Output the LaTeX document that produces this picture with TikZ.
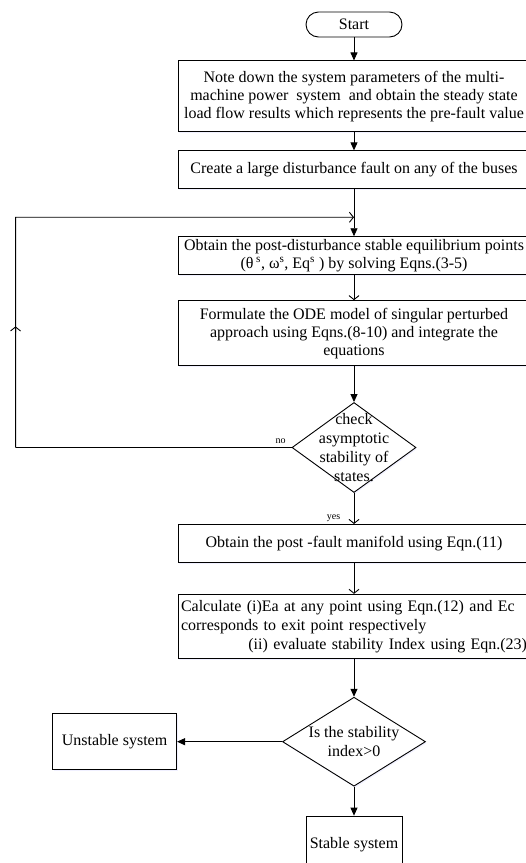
\documentclass[tikz,border=0pt]{standalone}
\usepackage{fontspec}
\setmainfont{Liberation Serif}
\usetikzlibrary{shapes, arrows.meta, positioning, calc, shadows}

\begin{document}
\begin{tikzpicture}[
			node distance=30pt,
			line width=0.9pt,
			>={Triangle[length=8pt,width=7pt]},
			open/.style={-{Straight Barb[length=4pt,width=10pt]}},
			boxshadow/.style={drop shadow={shadow xshift=1pt, shadow yshift=-1.5pt, fill=blue!15, opacity=0.4}},
			block/.style={draw, rectangle, boxshadow, fill=white, minimum width=352pt, inner xsep=2pt, inner ysep=2pt, align=center, font=\fontsize{16}{18}\selectfont},
			decision/.style={draw, diamond, boxshadow, fill=white, inner sep=0pt},
			terminal/.style={draw, rectangle, rounded corners=12.5pt, fill=white, minimum width=96pt, minimum height=25pt, font=\fontsize{16}{18}\selectfont},
			txt/.style={align=center, font=\fontsize{16}{19}\selectfont},
			small/.style={font=\fontsize{10}{12}\selectfont}
			]
			\useasboundingbox (0,0) rectangle (526pt,-863pt);
			% --- Definicja węzłów (elementów schematu) ---
			\node[terminal] (start) at (354pt,-24.5pt) {Start};
			\node[block, minimum height=71pt, below=23pt of start] (note) {Note down the system parameters of the multi-\\machine power\ \ system\ \ and obtain the steady state\\load flow results which represents the pre-fault value};
			\node[block, minimum height=38pt, below=18pt of note] (fault) {Create a large disturbance fault on any of the buses};
			\node[block, minimum height=38pt, below=47pt of fault] (sep) {Obtain the post-disturbance stable equilibrium points\\(θ\,\textsuperscript{s}, ω\textsuperscript{s}, Eq\textsuperscript{s} ) by solving Eqns.(3-5)};
			\node[block, minimum height=65pt, below=25pt of sep] (ode) {Formulate the ODE model of singular perturbed\\approach using Eqns.(8-10) and integrate the\\equations};
			\node[decision, minimum width=124pt, minimum height=90pt, below=36pt of ode] (check) {};
			\node[txt] (checktxt) at (check) {check\\asymptotic\\stability of\\states.};
			\node[block, minimum height=38pt, below=31pt of check] (manifold) {Obtain the post -fault manifold using Eqn.(11)};
			\node[block, text width=346pt, inner xsep=3pt, minimum height=64pt, below=31pt of manifold, align=left, font=\fontsize{16}{19}\selectfont] (index) {Calculate (i)Ea at any point using Eqn.(12) and Ec\\corresponds to exit point respectively\\\hspace*{\fill}(ii) evaluate stability Index using Eqn.(23)};
			\node[decision, minimum width=143pt, minimum height=89pt, below=38pt of index] (sign) {};
			\node[txt] (signtxt) at (sign) {Is the stability\\index>0};
			\node[block, minimum width=96pt, minimum height=58pt, below=29pt of sign] (stable) {Stable system};
			\node[block, minimum width=124pt, minimum height=56pt, left=105pt of sign] (unstable) {Unstable system};

			% --- Rysowanie strzałek (ścieżka główna) ---
			\draw[->] (start) -- (note);
			\draw[->] (note) -- (fault);
			\draw[->] (fault) -- (sep);
			\draw[open] (sep) -- (ode);
			\draw[->] (ode) -- (check);
			\draw[open] (check) -- node[pos=0.8, left=10pt, small] (yeslbl) {yes} (manifold);
			\draw[open] (manifold) -- (index);
			\draw[->] (index) -- (sign);
			\draw[->] (sign) -- (unstable);
			\draw[->] (sign) -- (stable);

			% --- Pętla powrotna (no) ---
			\coordinate[left=276pt of check.west] (loopb);
			\coordinate[above=19pt of sep.north] (joint);
			\coordinate (loopt) at (loopb |- joint);
			\draw (check.west) -- node[pos=0.04, above, small] (nolbl) {no} (loopb);
			\draw[open] (loopb) -- ($(loopb)!0.526!(loopt)$);
			\draw[open] ($(loopb)!0.5!(loopt)$) -- (loopt) -- (joint);

		\end{tikzpicture}
\end{document}
